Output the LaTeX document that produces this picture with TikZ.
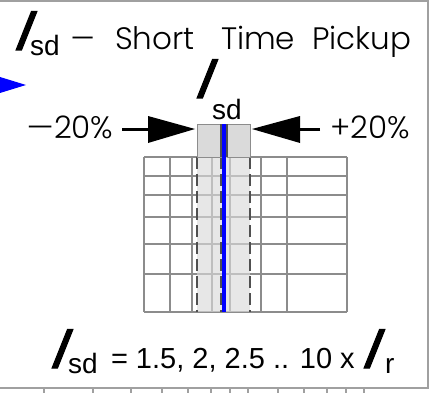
\documentclass[tikz,border=0pt]{standalone}
\usepackage{fontspec}
\setmainfont{Liberation Sans}
\IfFontExistsTF{Poppins Light}{\newfontfamily\thinfont{Poppins Light}}{\newfontfamily\thinfont{Poppins}}
\newfontfamily\Ifont{Liberation Sans}[FakeSlant=0.4,FakeBold=2.2]
\definecolor{gridgray}{HTML}{8C8C8C}
\definecolor{shadegray}{HTML}{DADADA}
\definecolor{dashgray}{HTML}{505050}
\definecolor{pureblue}{HTML}{0000FF}
\definecolor{framegray}{HTML}{A0A0A0}
\begin{document}
\begin{tikzpicture}[x=1pt,y=-1pt,
  txt/.style={inner sep=0pt, outer sep=0pt, anchor=base west},
  bigI/.style={txt, font=\Ifont\fontsize{56}{56}\selectfont},
  subtxt/.style={txt, font=\fontsize{28}{28}\selectfont},
  thintxt/.style={txt, font=\thinfont\fontsize{31}{31}\selectfont},
  gridline/.style={draw=gridgray, line width=1.6pt},
  dashline/.style={draw=dashgray, line width=1.4pt, dash pattern=on 12pt off 5pt},
  arrowline/.style={draw=black, line width=3pt}]
\useasboundingbox (0,0) rectangle (433,393);
% frame
\draw[framegray, line width=1.2pt] (0,1) -- (428,1) -- (428,388) -- (0,388);
\foreach \x in {44,93,131,162,188,211,230,248,278,304,327,346,364}
  \draw[framegray, line width=1.2pt] (\x,388) -- (\x,393);
\draw[framegray, line width=1.2pt] (44,0) -- (44,1);
% blue pointer
\fill[pureblue] (0,77) -- (26,85) -- (0,93) -- cycle;
% grid
\foreach \y in {157,176,195,217,244,274,312}
  \draw[gridline] (144,\y) -- (347,\y);
\foreach \x in {144,170,192,212,230,261,287,347}
  \draw[gridline] (\x,157) -- (\x,312);
% shaded band
\fill[shadegray, opacity=0.65] (197,157) rectangle (250,312);
\foreach \x in {197,221,250}
  \draw[dashline] (\x,157) -- (\x,312);
% top boxes
\node[draw=gridgray, fill=shadegray, line width=1.2pt, minimum width=24pt, minimum height=33pt, inner sep=0pt, anchor=north west] (boxL) at (197,124) {};
\node[draw=gridgray, fill=shadegray, line width=1.2pt, minimum width=23pt, minimum height=33pt, inner sep=0pt, anchor=north west] (boxR) at (227,124) {};
\draw[dashgray, line width=1.3pt] (221,124) -- (221,157);
\draw[dashgray, line width=1.3pt] (227,124) -- (227,157);
% blue line
\draw[pureblue, line width=3.5pt] (224,124) -- (224,312);
% arrows
\coordinate (la) at (122,129);
\coordinate (ra) at (320,129);
\draw[arrowline] (la) -- (150,129);
\fill (148,116) -- (195,129) -- (148,143) -- cycle;
\draw[arrowline] (ra) -- (298,129);
\fill (300,116) -- (252,129) -- (300,143) -- cycle;
% title
\node[bigI] (tI) at (11,50) {I};
\node[subtxt] (tsd) at (30,56) {sd};
\node[thintxt] (tdash) at (70,50) {\scalebox{1.25}[1]{–}};
\node[thintxt] (tw1) at (115,50) {Short};
\node[thintxt] (tw2) at (221,50) {Time};
\node[thintxt] (tw3) at (312,50) {Pickup};
% centre label
\node[bigI] (cI) at (192,98) {I};
\node[subtxt] (csd) at (212,119) {sd};
% percentages
\node[thintxt] (mp) at (26,138) {\scalebox{1.4}[1]{–}20\%};
\node[thintxt] (pp) at (330,138) {+20\%};
% bottom formula
\node[bigI] (bI) at (47,368) {I};
\node[subtxt] (bsd) at (68,373) {sd};
\node[txt, font=\fontsize{29}{29}\selectfont] (bval) at (111,368) {= 1.5, 2, 2.5 .. 10 x};
\node[bigI] (rI) at (359,368) {I};
\node[subtxt] (rr) at (385,373) {r};
\end{tikzpicture}
\end{document}
